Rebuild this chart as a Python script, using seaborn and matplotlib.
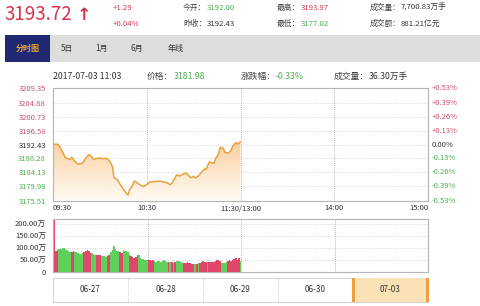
import numpy as np
import pandas as pd
import matplotlib
matplotlib.use("Agg")
import matplotlib.pyplot as plt
import matplotlib.transforms as mtransforms
from matplotlib.patches import Rectangle
from matplotlib.colors import LinearSegmentedColormap
import seaborn as sns

sns.set_theme(style="white")
plt.rcParams["font.family"] = ["Noto Sans CJK SC", "DejaVu Sans"]

# ---------------- data ----------------
price_minutes = [0, 3, 4, 6, 8, 10, 11, 12, 14, 16, 18, 19, 21, 23, 25, 26, 28, 30, 32, 34,
                 36, 38, 39, 41, 42, 44, 45, 47, 48, 49, 51, 52, 54, 56, 58, 60, 62, 64, 66, 68,
                 71, 73, 75, 76, 78, 79, 81, 83, 85, 87, 88, 90, 91, 93, 95, 97, 98, 100, 103, 104,
                 106, 107, 109, 110, 112, 114, 115, 117, 118, 120]
price_values = [3192.5, 3192.5, 3192.0, 3190.3, 3188.4, 3188.1, 3187.9, 3188.6, 3187.4, 3186.6,
                3186.7, 3186.9, 3188.4, 3189.4, 3188.6, 3187.9, 3188.3, 3188.4, 3188.2, 3188.3,
                3187.7, 3185.9, 3182.5, 3182.0, 3181.2, 3179.8, 3179.0, 3177.8, 3177.3, 3178.8,
                3180.3, 3181.5, 3180.9, 3180.2, 3179.9, 3180.4, 3181.2, 3181.3, 3181.3, 3181.5,
                3181.2, 3181.0, 3180.4, 3180.8, 3182.3, 3183.3, 3183.0, 3183.5, 3183.9, 3183.1,
                3182.5, 3182.9, 3182.4, 3183.0, 3184.1, 3185.1, 3185.0, 3187.2, 3186.8, 3188.1,
                3189.6, 3191.6, 3191.3, 3190.1, 3189.8, 3190.7, 3191.9, 3193.0, 3192.6, 3193.2]

vol_values = [216, 89, 92, 96, 97, 100, 98, 95, 90, 88,
              85, 84, 86, 85, 84, 78, 74, 76, 80, 83,
              88, 92, 86, 80, 78, 74, 72, 70, 71, 70,
              66, 65, 67, 64, 68, 70, 82, 92, 107, 96,
              88, 86, 82, 80, 90, 88, 86, 85, 70, 66,
              62, 60, 64, 71, 72, 60, 55, 53, 52, 50,
              48, 49, 47, 50, 44, 43, 45, 44, 42, 46,
              48, 47, 42, 40, 41, 42, 39, 40, 44, 45,
              44, 43, 38, 36, 39, 40, 38, 37, 35, 34,
              34, 33, 38, 36, 40, 44, 43, 40, 42, 41,
              42, 41, 40, 46, 50, 52, 44, 38, 37, 36,
              42, 46, 48, 44, 52, 56, 58, 50, 60, 46]
vol_dirs = list("rrr" "gggggggg" "rr" "gggggg" "rrrrr" "ggg" "rrr" "gggg" "rr" "gggggg"
                "rr" "gggg" "rrrrrr" "gggggg" "rrrr" "ggggggggg" "rgrgrg" "gggg" "rrrrrrr"
                "grgr" "rrrrgrrrrrrrr" "gggg" "rrrrrrrr" "g")

prev_close = 3192.43
price_ticks = [3175.51, 3179.98, 3184.13, 3188.28, 3192.43, 3196.58, 3200.73, 3204.88, 3209.35]
pct_labels = ["-0.53%", "-0.39%", "-0.26%", "-0.13%", "0.00%", "+0.13%", "+0.26%", "+0.39%", "+0.53%"]
time_ticks = [0, 60, 120, 180, 240]
time_labels = ["09:30", "10:30", "11:30/13:00", "14:00", "15:00"]
vol_ticks = [0, 50, 100, 150, 200]
vol_labels = ["0", "50.00万", "100.00万", "150.00万", "200.00万"]
date_labels = ["06-27", "06-28", "06-29", "06-30", "07-03"]
tab_labels = ["5日", "1月", "6月", "年线"]

RED = "#d3374f"
RED_T = "#c9506a"
GREEN = "#4caf50"
DARK = "#333333"
ORANGE = "#e9a23b"

W, H = 480, 306
fig = plt.figure(figsize=(W / 100, H / 100), dpi=100)
fig.patch.set_facecolor("white")

bg = fig.add_axes([0, 0, 1, 1])
bg.set_xlim(0, W)
bg.set_ylim(H, 0)
bg.axis("off")


def px_axes(x0, y0, x1, y1):
    return fig.add_axes([x0 / W, 1 - y1 / H, (x1 - x0) / W, (y1 - y0) / H])


def pair(x, y, label, value, vcolor, size=5.6):
    t = bg.text(x, y, label, fontsize=size, color="#444444", va="center", ha="left")
    bg.annotate(value, xy=(1, 0), xycoords=t, fontsize=size, color=vcolor,
                va="bottom", ha="left")


# ---------------- header ----------------
bg.text(4, 15, "3193.72", fontsize=13.5, color=RED, va="center", ha="left")
bg.text(77, 15.5, "↑", fontsize=12.5, color=RED, va="center", ha="left", fontweight="bold",
        family=["DejaVu Sans"])
bg.text(113, 8, "+1.29", fontsize=5.6, color=RED, va="center")
bg.text(113, 24, "+0.04%", fontsize=5.6, color=RED, va="center")
pair(183, 8, "今开：", "3192.00", GREEN)
pair(183, 24, "昨收：", "3192.43", DARK)
pair(277, 8, "最高：", "3193.97", RED)
pair(277, 24, "最低：", "3177.02", GREEN)
pair(370, 8, "成交量：", "7,700.83万手", DARK)
pair(370, 24, "成交额：", "881.21亿元", DARK)

# tab bar
bg.add_patch(Rectangle((5, 35), 475, 26.5, fc="#dddddd", ec="none"))
bg.add_patch(Rectangle((5, 35), 45, 26.5, fc="#1f2870", ec="none"))
bg.text(27.5, 48.5, "分时图", fontsize=5.8, color="#f0a23a", ha="center", va="center",
        fontweight="bold")
for xc, lab in zip([67, 102, 137, 176], tab_labels):
    bg.text(xc, 48.5, lab, fontsize=5.8, color="#333333", ha="center", va="center")

# info line
bg.text(53, 76.5, "2017-07-03 11:03", fontsize=6.3, color=DARK, va="center")
pair(147, 76.5, "价格：", "3181.98", GREEN, size=6.3)
pair(241, 76.5, "涨跌幅：", "-0.33%", GREEN, size=6.3)
pair(334, 76.5, "成交量：", "36.30万手", DARK, size=6.3)

# ---------------- price panel ----------------
ax = px_axes(53, 88, 428, 201)
ax.set_facecolor("white")
ymin, ymax = price_ticks[0], price_ticks[-1]

poly = ax.fill_between(price_minutes, price_values, ymin, color="none", lw=0)
cmap = LinearSegmentedColormap.from_list("fade", ["#fffaf4", "#fde6cc", "#f9cf9f"])
grad = np.linspace(0, 1, 256).reshape(-1, 1)
top = max(price_values)
img = ax.imshow(grad, extent=[0, 240, ymin, top], aspect="auto", cmap=cmap,
                origin="lower", zorder=1)
img.set_clip_path(poly.get_paths()[0], transform=ax.transData)

sns.lineplot(x=price_minutes, y=price_values, ax=ax, color=ORANGE, lw=1.1, zorder=3)

ax.set_xlim(0, 240)
ax.set_ylim(ymin, ymax)
for v in price_ticks[1:-1]:
    ax.axhline(v, color="#cfcfcf", lw=0.6, ls=(0, (1, 1.5)), zorder=0.5)
for t in time_ticks[1:-1]:
    ax.axvline(t, color="#9a9a9a", lw=0.6, ls=(0, (1, 1.5)), zorder=0.5)

ax.set_yticks(price_ticks)
ax.set_yticklabels([f"{v:.2f}" for v in price_ticks])
ax.set_xticks([])
ax.tick_params(axis="y", length=0, labelsize=5.5, pad=5)
for lab, v in zip(ax.get_yticklabels(), price_ticks):
    lab.set_color(RED_T if v > prev_close else (DARK if v == prev_close else GREEN))
trans = mtransforms.blended_transform_factory(ax.transAxes, ax.transData)
for v, lab in zip(price_ticks, pct_labels):
    c = RED_T if lab.startswith("+") else (DARK if lab == "0.00%" else GREEN)
    ax.text(1.011, v, lab, transform=trans, fontsize=5.5, color=c, va="center", ha="left")
for sp in ax.spines.values():
    sp.set_color("#b5b5b5")
    sp.set_linewidth(0.8)

# time labels
for t, lab in zip(time_ticks, time_labels):
    xp = 53 + t / 240 * 375
    ha = "left" if t == 0 else ("right" if t == 240 else "center")
    bg.text(xp, 208.5, lab, fontsize=5.5, color=DARK, ha=ha, va="center")

# ---------------- volume panel ----------------
axv = px_axes(53, 219, 428, 272)
df = pd.DataFrame({"minute": np.arange(len(vol_values)), "vol": vol_values, "dir": vol_dirs})
sns.barplot(data=df, x="minute", y="vol", hue="dir",
            palette={"r": "#e2476b", "g": "#5fd05a"}, native_scale=True, width=1.0,
            dodge=False, legend=False, saturation=1, linewidth=0, ax=axv, zorder=2)
axv.set_xlim(-1.0, 239)
axv.set_ylim(0, 221)
for v in vol_ticks[1:]:
    axv.axhline(v, color="#cfcfcf", lw=0.6, ls=(0, (1, 1.5)), zorder=0.5)
for t in time_ticks[1:-1]:
    axv.axvline(t - 0.5, color="#9a9a9a", lw=0.6, ls=(0, (1, 1.5)), zorder=0.5)
axv.set_yticks(vol_ticks)
axv.set_yticklabels(vol_labels)
axv.set_xticks([])
axv.set_xlabel("")
axv.set_ylabel("")
axv.tick_params(axis="y", length=0, labelsize=5.5, pad=5, colors=DARK)
for sp in axv.spines.values():
    sp.set_color("#b5b5b5")
    sp.set_linewidth(0.8)
    sp.set_zorder(1)

# ---------------- date navigator ----------------
bg.add_patch(Rectangle((53, 278), 375, 24, fc="white", ec="#d5d5d5", lw=0.8))
bg.add_patch(Rectangle((353, 278), 75, 24, fc="#fbe2b6", ec="none"))
bg.add_patch(Rectangle((352, 278), 2.6, 24, fc="#eca03c", ec="none"))
bg.add_patch(Rectangle((426, 278), 2.6, 24, fc="#eca03c", ec="none"))
for i in range(1, 4):
    xs = 53 + i * 75
    bg.plot([xs, xs], [278, 302], color="#bbbbbb", lw=0.6, ls=(0, (1, 1.5)))
for i, lab in enumerate(date_labels):
    bg.text(53 + 37.5 + i * 75, 290, lab, fontsize=5.8, color=DARK, ha="center", va="center")

fig.savefig("out.png", dpi=100, facecolor="white")
